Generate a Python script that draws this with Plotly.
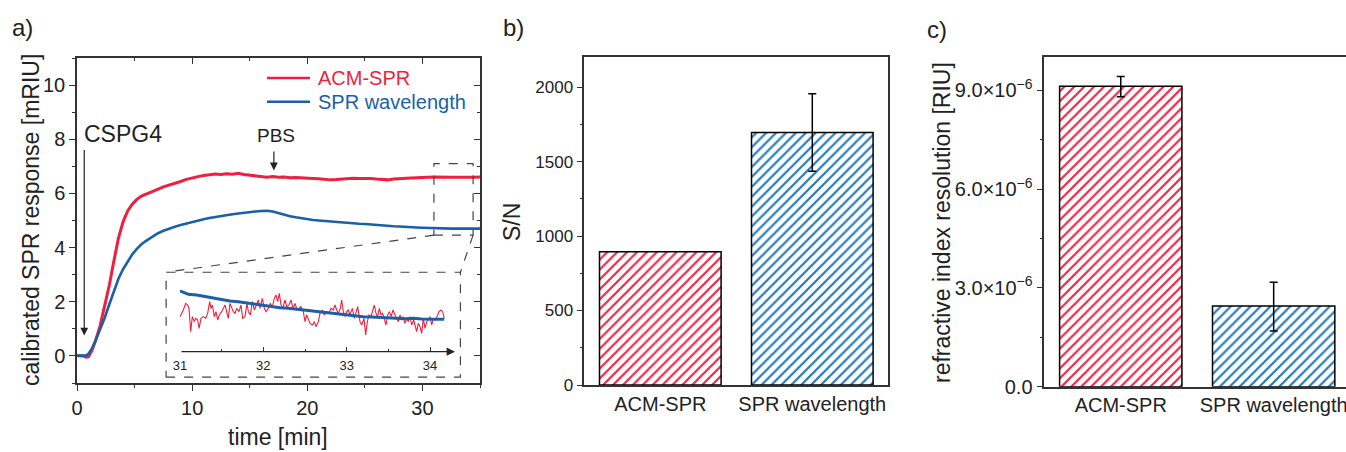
import plotly.graph_objects as go

W, H = 1346, 452
FONT = "Arial, Liberation Sans, sans-serif"
RED = "#EE1F3F"
BLUE = "#1B5FAA"
HATCH_RED = "#F0284A"
HATCH_BLUE = "#2479BD"

# ---------------- panel a data ----------------
t_main = [0, 0.3, 0.5, 0.8, 1.0, 1.3, 1.6, 2.0, 2.4, 2.8, 3.2, 3.6, 4.0, 4.4, 4.8, 5.2, 5.6, 6.0,
          6.5, 7.0, 7.5, 8.0, 8.5, 9.0, 9.5, 10.0, 10.5, 11.0, 11.5, 12.0, 12.5, 13.0, 13.5, 14.0,
          14.5, 15.0, 15.5, 16.0, 16.5, 17.0, 17.5, 18.0, 18.5, 19.0, 19.5, 20.0, 20.5, 21.0, 21.5,
          22.0, 22.5, 23.0, 23.5, 24.0, 24.5, 25.0, 25.5, 26.0, 26.5, 27.0, 27.5, 28.0, 28.5, 29.0,
          29.5, 30.0, 30.5, 31.0, 31.5, 32.0, 32.5, 33.0, 33.5, 34.0, 34.5, 35.0]
acm_spr = [0.02, 0.01, 0.0, -0.05, -0.03, 0.2, 0.55, 1.1, 1.8, 2.6, 3.5, 4.35, 4.95, 5.35, 5.6, 5.78, 5.9, 5.98,
           6.08, 6.15, 6.24, 6.3, 6.38, 6.44, 6.52, 6.58, 6.62, 6.66, 6.7, 6.72, 6.7, 6.73, 6.71, 6.74,
           6.7, 6.68, 6.66, 6.62, 6.6, 6.62, 6.6, 6.61, 6.58, 6.59, 6.57, 6.56, 6.55, 6.54, 6.52,
           6.5, 6.51, 6.53, 6.55, 6.56, 6.55, 6.56, 6.55, 6.53, 6.52, 6.5, 6.53, 6.55, 6.56, 6.57,
           6.58, 6.6, 6.6, 6.61, 6.6, 6.61, 6.6, 6.6, 6.61, 6.6, 6.6, 6.61]
spr_wl = [0.0, 0.0, 0.0, 0.02, 0.08, 0.28, 0.55, 0.95, 1.4, 1.9, 2.4, 2.85, 3.2, 3.5, 3.75, 3.95, 4.12, 4.25,
          4.4, 4.52, 4.62, 4.7, 4.77, 4.83, 4.89, 4.95, 5.0, 5.05, 5.09, 5.13, 5.17, 5.2, 5.23, 5.26,
          5.29, 5.31, 5.33, 5.35, 5.36, 5.33, 5.27, 5.21, 5.16, 5.12, 5.08, 5.05, 5.02, 5.0, 4.98,
          4.96, 4.94, 4.93, 4.91, 4.9, 4.88, 4.87, 4.85, 4.84, 4.82, 4.81, 4.79, 4.78, 4.76, 4.75,
          4.74, 4.73, 4.72, 4.72, 4.71, 4.71, 4.7, 4.7, 4.7, 4.7, 4.7, 4.7]
series_names = ["ACM-SPR", "SPR wavelength"]

# inset (relative signal, arbitrary units)
t_inset_red = [31.000, 31.040, 31.068, 31.092, 31.108, 31.128, 31.148, 31.172, 31.188, 31.212, 31.228, 31.252,
               31.280, 31.308, 31.332, 31.356, 31.372, 31.388, 31.412, 31.432, 31.452, 31.472, 31.500, 31.520,
               31.540, 31.560, 31.580, 31.600, 31.620, 31.640, 31.660, 31.680, 31.708, 31.732, 31.752, 31.780,
               31.804, 31.820, 31.844, 31.868, 31.892, 31.916, 31.940, 31.960, 31.988, 32.012, 32.032, 32.060,
               32.084, 32.108, 32.132, 32.152, 32.172, 32.192, 32.212, 32.232, 32.260, 32.280, 32.308, 32.332,
               32.356, 32.380, 32.404, 32.428, 32.452, 32.480, 32.500, 32.520, 32.540, 32.560, 32.588, 32.612,
               32.632, 32.660, 32.680, 32.708, 32.732, 32.760, 32.788, 32.812, 32.840, 32.860, 32.880, 32.900,
               32.924, 32.940, 32.960, 32.980, 33.000, 33.020, 33.040, 33.068, 33.092, 33.112, 33.132, 33.160,
               33.180, 33.208, 33.228, 33.248, 33.268, 33.292, 33.312, 33.332, 33.352, 33.372, 33.392, 33.412,
               33.432, 33.452, 33.472, 33.492, 33.512, 33.532, 33.556, 33.580, 33.600, 33.620, 33.640, 33.660,
               33.680, 33.700, 33.720, 33.740, 33.760, 33.780, 33.804, 33.820, 33.840, 33.860, 33.880, 33.900,
               33.920, 33.940, 33.960, 33.980, 34.000, 34.020, 34.040, 34.060, 34.084, 34.108, 34.132, 34.152,
               34.172]
inset_red = [65, 85, 105, 100, 90, 20, 65, 50, 60, 55, 30, 60,
             65, 60, 75, 110, 90, 100, 65, 80, 55, 70, 80, 90,
             100, 80, 60, 105, 90, 80, 75, 90, 80, 100, 60, 65,
             105, 80, 70, 110, 85, 100, 115, 90, 120, 90, 80, 90,
             105, 95, 120, 130, 110, 135, 100, 90, 115, 95, 100, 115,
             90, 105, 85, 90, 95, 80, 50, 70, 60, 45, 40, 50,
             35, 50, 75, 85, 70, 80, 75, 90, 85, 100, 85, 75,
             90, 115, 80, 65, 80, 85, 70, 90, 60, 80, 95, 50,
             40, 60, 10, 50, 70, 65, 85, 100, 75, 65, 90, 70,
             75, 60, 40, 70, 80, 65, 85, 70, 60, 50, 70, 55,
             65, 45, 60, 50, 65, 40, 55, 35, 20, 45, 35, 15,
             60, 30, 50, 55, 65, 40, 60, 55, 65, 80, 85, 80,
             60]
t_inset_blue = [31.00, 31.04, 31.10, 31.20, 31.30, 31.40, 31.50, 31.60, 31.70, 31.80, 31.90, 32.00,
                32.10, 32.20, 32.30, 32.40, 32.50, 32.60, 32.70, 32.80, 32.90, 33.00, 33.10, 33.20,
                33.30, 33.40, 33.50, 33.60, 33.70, 33.80, 33.90, 34.00, 34.10, 34.17]
inset_blue = [142, 138, 132, 130, 125, 120, 115, 112, 110, 106, 102, 100,
              95, 92, 90, 87, 85, 81, 78, 76, 73, 70, 68, 65,
              64, 62, 60, 60, 59, 60, 58, 57, 58, 57]
inset_ticks = [31, 32, 33, 34]

# ---------------- panels b, c data ----------------
categories = ["ACM-SPR", "SPR wavelength"]
sn_values = [895, 1695]
sn_err = [0, 260]
res_values = [9.12e-6, 2.45e-6]
res_err_plus = [0.30e-6, 0.72e-6]
res_err_minus = [0.32e-6, 0.76e-6]
res_tickvals = [0, 3e-6, 6e-6, 9e-6]
res_ticktext = ["0.0", "3.0×10<sup>−6</sup>", "6.0×10<sup>−6</sup>", "9.0×10<sup>−6</sup>"]
hatch_colors = [HATCH_RED, HATCH_BLUE]


def px(x):
    return x / W


def py(y):
    return 1 - y / H


fig = go.Figure()

# panel a main curves
fig.add_trace(go.Scatter(x=t_main, y=acm_spr, mode="lines", name=series_names[0],
                         line=dict(color=RED, width=3), xaxis="x", yaxis="y", showlegend=False))
fig.add_trace(go.Scatter(x=t_main, y=spr_wl, mode="lines", name=series_names[1],
                         line=dict(color=BLUE, width=2.6), xaxis="x", yaxis="y", showlegend=False))
# helpers for mirrored (inward) ticks
fig.add_trace(go.Scatter(x=[None], y=[None], xaxis="x5", yaxis="y", showlegend=False, hoverinfo="skip"))
fig.add_trace(go.Scatter(x=[None], y=[None], xaxis="x", yaxis="y5", showlegend=False, hoverinfo="skip"))

# inset
fig.add_trace(go.Scatter(x=t_inset_red, y=inset_red, mode="lines", line=dict(color=RED, width=1.1),
                         xaxis="x4", yaxis="y4", showlegend=False))
fig.add_trace(go.Scatter(x=t_inset_blue, y=inset_blue, mode="lines", line=dict(color=BLUE, width=3),
                         xaxis="x4", yaxis="y4", showlegend=False))

# panels b and c: one hatched bar trace per category
for i in range(2):
    fig.add_trace(go.Bar(x=[i], y=[sn_values[i]], width=0.8, xaxis="x2", yaxis="y2", showlegend=False,
                         name=categories[i],
                         marker=dict(color=hatch_colors[i], line=dict(color="black", width=1.5),
                                     pattern=dict(shape="/", fillmode="replace", bgcolor="white",
                                                  size=7, solidity=0.32)),
                         error_y=dict(type="data", array=[sn_err[i]], color="black", thickness=1.5, width=4,
                                      visible=sn_err[i] > 0)))
    fig.add_trace(go.Bar(x=[i], y=[res_values[i]], width=0.8, xaxis="x3", yaxis="y3", showlegend=False,
                         name=categories[i],
                         marker=dict(color=hatch_colors[i], line=dict(color="black", width=1.5),
                                     pattern=dict(shape="/", fillmode="replace", bgcolor="white",
                                                  size=7, solidity=0.32)),
                         error_y=dict(type="data", symmetric=False, array=[res_err_plus[i]],
                                      arrayminus=[res_err_minus[i]], color="black", thickness=1.5, width=4)))

tickfont = dict(family=FONT, size=20, color="#222")
axcommon = dict(showgrid=False, zeroline=False, showline=True, linecolor="#333", linewidth=1.5,
                ticks="outside", tickcolor="#333", tickwidth=1.3, automargin=False)

layout = dict(
    template="none",
    width=W, height=H, margin=dict(l=0, r=0, t=0, b=0, pad=0),
    paper_bgcolor="white", plot_bgcolor="white",
    font=dict(family=FONT, size=20, color="#222"),
    showlegend=False, barmode="overlay",
    # panel a
    xaxis=dict(domain=[px(77), px(480)], range=[0, 35], anchor="y", tickvals=[0, 10, 20, 30],
               ticklen=6, minor=dict(dtick=5, tick0=0, ticks="outside", ticklen=3, tickcolor="#333"),
               tickfont=tickfont, **axcommon),
    yaxis=dict(domain=[py(383), py(58)], range=[-1, 11], anchor="x", tickvals=[0, 2, 4, 6, 8, 10],
               ticklen=6, minor=dict(dtick=1, tick0=0, ticks="outside", ticklen=3, tickcolor="#333"),
               tickfont=tickfont, **axcommon),
    xaxis5=dict(overlaying="x", side="top", anchor="y", range=[0, 35], showgrid=False, zeroline=False,
                showline=True, linecolor="#333", linewidth=1.5, ticks="inside", ticklen=6, tickcolor="#333",
                tickvals=[0, 10, 20, 30], showticklabels=False, automargin=False,
                minor=dict(dtick=5, tick0=0, ticks="inside", ticklen=3, tickcolor="#333")),
    yaxis5=dict(overlaying="y", side="right", anchor="x", range=[-1, 11], showgrid=False, zeroline=False,
                showline=True, linecolor="#333", linewidth=1.5, ticks="inside", ticklen=6, tickcolor="#333",
                tickvals=[0, 2, 4, 6, 8, 10], showticklabels=False, automargin=False,
                minor=dict(dtick=1, tick0=0, ticks="inside", ticklen=3, tickcolor="#333")),
    # inset
    xaxis4=dict(domain=[px(180), px(455)], range=[31, 34.3], anchor="free", position=py(351.7),
                showgrid=False, zeroline=False, showline=False, ticks="inside", ticklen=5, tickcolor="#333",
                tickwidth=1, tickvals=inset_ticks, tickfont=dict(family=FONT, size=13, color="#222"),
                automargin=False, ticklabelstandoff=4,
                minor=dict(dtick=0.5, tick0=31, ticks="inside", ticklen=3, tickcolor="#333")),
    yaxis4=dict(domain=[py(378.3), py(272.7)], range=[-119.9, 196.9], anchor="x4", visible=False,
                automargin=False),
    # panel b
    xaxis2=dict(domain=[px(584.3), px(888.3)], range=[-0.5, 1.5], anchor="y2", tickvals=[0, 1],
                ticktext=categories, ticks="", mirror=True, showgrid=False, zeroline=False, showline=True,
                linecolor="#333", linewidth=1.5, tickfont=tickfont, automargin=False,
                ticklabeloverflow="allow"),
    yaxis2=dict(domain=[py(385), py(57.3)], range=[0, 2200], anchor="x2", tickvals=[0, 500, 1000, 1500, 2000],
                ticklen=6, mirror=True,
                minor=dict(dtick=250, tick0=0, ticks="outside", ticklen=3, tickcolor="#333"),
                tickfont=dict(family=FONT, size=17, color="#222"), **axcommon),
    # panel c
    xaxis3=dict(domain=[px(1044.3), 1.0], range=[-0.5, 1.473], anchor="y3", tickvals=[0, 1],
                ticktext=categories, ticks="", mirror=True, showgrid=False, zeroline=False, showline=True,
                linecolor="#333", linewidth=1.5, tickfont=tickfont, automargin=False,
                ticklabeloverflow="allow"),
    yaxis3=dict(domain=[py(386.7), py(57.3)], range=[0, 1.0e-5], anchor="x3", tickvals=res_tickvals,
                ticktext=res_ticktext, ticklen=6,
                minor=dict(tickvals=[1.5e-6, 4.5e-6, 7.5e-6], ticks="outside", ticklen=3, tickcolor="#333"),
                tickfont=tickfont, **axcommon),
)


def label(text, x, y, size=24, angle=0, xanchor="center", color="#222"):
    return dict(text=text, x=px(x), y=py(y), xref="paper", yref="paper", xanchor=xanchor, yanchor="middle",
                textangle=angle, showarrow=False, font=dict(family=FONT, size=size, color=color))


annotations = [
    label("a)", 10, 27, xanchor="left"),
    label("b)", 501, 27, xanchor="left"),
    label("c)", 925, 30, xanchor="left"),
    label("calibrated SPR response [mRIU]", 31, 220, size=23, angle=-90),
    label("time [min]", 278, 437, size=23),
    label("S/N", 512, 222, size=23, angle=-90),
    label("refractive index resolution [RIU]", 942, 222, size=23, angle=-90),
    # legend texts
    label(series_names[0], 316, 78, size=20, xanchor="left", color=RED),
    label(series_names[1], 316, 102, size=20, xanchor="left", color=BLUE),
    dict(text="CSPG4", x=0.45, y=8.21, xref="x", yref="y", xanchor="left", yanchor="middle", showarrow=False,
         font=dict(family=FONT, size=23, color="#222")),
    dict(text="", x=0.63, y=0.75, ax=0.63, ay=7.66, xref="x", yref="y", axref="x", ayref="y",
         showarrow=True, arrowhead=2, arrowsize=1.3, arrowwidth=1.2, arrowcolor="#222"),
    dict(text="PBS", x=17.3, y=8.14, xref="x", yref="y", xanchor="center", yanchor="middle", showarrow=False,
         font=dict(family=FONT, size=19, color="#222")),
    dict(text="", x=17.1, y=6.85, ax=17.1, ay=7.6, xref="x", yref="y", axref="x", ayref="y",
         showarrow=True, arrowhead=2, arrowsize=1.3, arrowwidth=1.2, arrowcolor="#222"),
    # inset axis arrow
    dict(text="", x=34.3, y=-40, ax=31, ay=-40, xref="x4", yref="y4", axref="x4", ayref="y4",
         showarrow=True, arrowhead=2, arrowsize=1.4, arrowwidth=1.2, arrowcolor="#222"),
]
layout["annotations"] = annotations

dash = dict(color="#444", width=1.2, dash="dash")
layout["shapes"] = [
    dict(type="rect", xref="x", yref="y", x0=31, x1=34.4, y0=4.46, y1=7.1, line=dash),
    dict(type="rect", xref="x", yref="y", x0=7.74, x1=33.3, y0=-0.78, y1=3.09, line=dash,
         fillcolor="rgba(0,0,0,0)"),
    dict(type="line", xref="x", yref="y", x0=31, y0=4.46, x1=7.74, y1=3.09, line=dash),
    dict(type="line", xref="x", yref="y", x0=34.4, y0=4.46, x1=33.3, y1=3.09, line=dash),
    # legend line samples
    dict(type="line", xref="paper", yref="paper", x0=px(267), x1=px(310), y0=py(78), y1=py(78),
         line=dict(color=RED, width=2.5)),
    dict(type="line", xref="paper", yref="paper", x0=px(267), x1=px(310), y0=py(101.7), y1=py(101.7),
         line=dict(color=BLUE, width=2.5)),
]

fig.update_layout(**layout)
fig.write_html("out.html", config={"displayModeBar": False},
               post_script="document.body.style.margin='0';")
